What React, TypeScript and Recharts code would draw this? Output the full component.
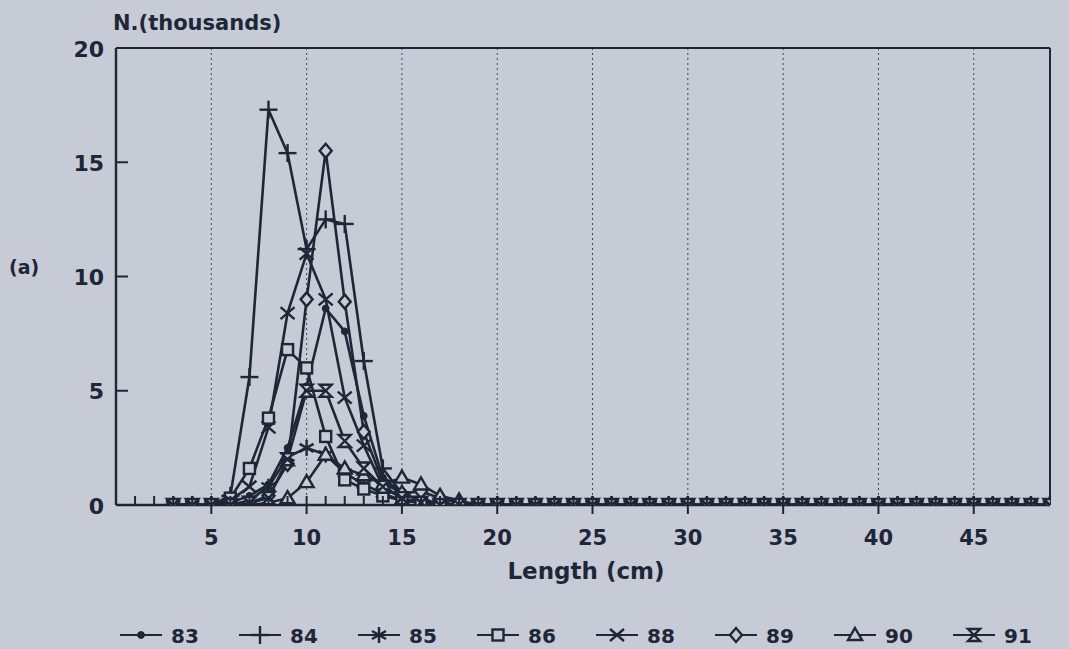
import React from 'react';
import { LineChart, Line, XAxis, YAxis, ReferenceLine } from 'recharts';

const BG = '#c7cbd5';
const INK = '#1d2737';
const FONT = '"DejaVu Sans", "Liberation Sans", sans-serif';

// Length classes (cm)
const lengths = [3, 4, 5, 6, 7, 8, 9, 10, 11, 12, 13, 14, 15, 16, 17, 18, 19, 20, 21, 22, 23, 24, 25, 26, 27, 28, 29, 30, 31, 32, 33, 34, 35, 36, 37, 38, 39, 40, 41, 42, 43, 44, 45, 46, 47, 48, 49];

// N (thousands) per year, L = 3..49
const y83 = [0, 0, 0, 0.1, 0.4, 0.9, 2.5, 5.2, 8.6, 7.6, 3.9, 1.2, 0.5, 0.2, 0.1, 0, 0, 0, 0, 0, 0, 0, 0, 0, 0, 0, 0, 0, 0, 0, 0, 0, 0, 0, 0, 0, 0, 0, 0, 0, 0, 0, 0, 0, 0, 0, 0];
const y84 = [0, 0, 0, 0.4, 5.6, 17.3, 15.4, 11.2, 12.5, 12.3, 6.3, 1.6, 0.5, 0.2, 0.1, 0, 0, 0, 0, 0, 0, 0, 0, 0, 0, 0, 0, 0, 0, 0, 0, 0, 0, 0, 0, 0, 0, 0, 0, 0, 0, 0, 0, 0, 0, 0, 0];
const y85 = [0, 0, 0, 0, 0.2, 0.8, 2.1, 2.5, 2.2, 1.4, 0.9, 0.5, 0.2, 0.1, 0, 0, 0, 0, 0, 0, 0, 0, 0, 0, 0, 0, 0, 0, 0, 0, 0, 0, 0, 0, 0, 0, 0, 0, 0, 0, 0, 0, 0, 0, 0, 0, 0];
const y86 = [0, 0, 0, 0.3, 1.6, 3.8, 6.8, 6.0, 3.0, 1.1, 0.7, 0.4, 0.2, 0.1, 0, 0, 0, 0, 0, 0, 0, 0, 0, 0, 0, 0, 0, 0, 0, 0, 0, 0, 0, 0, 0, 0, 0, 0, 0, 0, 0, 0, 0, 0, 0, 0, 0];
const y88 = [0, 0, 0, 0.2, 0.8, 3.4, 8.4, 11.0, 9.0, 4.7, 2.6, 0.8, 0.3, 0.1, 0, 0, 0, 0, 0, 0, 0, 0, 0, 0, 0, 0, 0, 0, 0, 0, 0, 0, 0, 0, 0, 0, 0, 0, 0, 0, 0, 0, 0, 0, 0, 0, 0];
const y89 = [0, 0, 0, 0, 0.1, 0.4, 1.8, 9.0, 15.5, 8.9, 3.2, 1.0, 0.5, 0.6, 0.3, 0.1, 0, 0, 0, 0, 0, 0, 0, 0, 0, 0, 0, 0, 0, 0, 0, 0, 0, 0, 0, 0, 0, 0, 0, 0, 0, 0, 0, 0, 0, 0, 0];
const y90 = [0, 0, 0, 0, 0, 0.1, 0.3, 1.0, 2.2, 1.6, 1.3, 0.9, 1.2, 0.9, 0.4, 0.2, 0, 0, 0, 0, 0, 0, 0, 0, 0, 0, 0, 0, 0, 0, 0, 0, 0, 0, 0, 0, 0, 0, 0, 0, 0, 0, 0, 0, 0, 0, 0];
const y91 = [0, 0, 0, 0, 0.1, 0.3, 2.0, 5.0, 5.0, 2.8, 1.6, 0.8, 0.3, 0.1, 0, 0, 0, 0, 0, 0, 0, 0, 0, 0, 0, 0, 0, 0, 0, 0, 0, 0, 0, 0, 0, 0, 0, 0, 0, 0, 0, 0, 0, 0, 0, 0, 0];

const seriesNames = ['83', '84', '85', '86', '88', '89', '90', '91'];
const seriesShapes = ['dot', 'plus', 'star', 'square', 'cross', 'diamond', 'triangle', 'hourglass'];
const seriesValues = [y83, y84, y85, y86, y88, y89, y90, y91];

// Axis ticks
const xMinorTicks = [1, 2, 3, 4, 5, 6, 7, 8, 9, 10, 11, 12, 13, 14, 15, 16, 17, 18, 19, 20, 21, 22, 23, 24, 25, 26, 27, 28, 29, 30, 31, 32, 33, 34, 35, 36, 37, 38, 39, 40, 41, 42, 43, 44, 45, 46, 47, 48];
const xMajorTicks = [5, 10, 15, 20, 25, 30, 35, 40, 45];
const yTicks = [0, 5, 10, 15, 20];

const data = lengths.map((L, i) => {
  const row: Record<string, number> = { L };
  seriesNames.forEach((n, k) => {
    row['s' + n] = seriesValues[k][i];
  });
  return row;
});

function Marker({ shape, cx, cy }: { shape: string; cx: number; cy: number }) {
  const st = { stroke: INK, strokeWidth: 2.4, fill: BG };
  switch (shape) {
    case 'dot':
      return <circle cx={cx} cy={cy} r={3.4} fill={INK} stroke={INK} strokeWidth={1} />;
    case 'plus':
      return (
        <g {...st}>
          <line x1={cx - 9} x2={cx + 9} y1={cy} y2={cy} />
          <line x1={cx} x2={cx} y1={cy - 9} y2={cy + 9} />
        </g>
      );
    case 'star':
      return (
        <g {...st}>
          <line x1={cx} x2={cx} y1={cy - 8} y2={cy + 8} />
          <line x1={cx - 7} x2={cx + 7} y1={cy - 4} y2={cy + 4} />
          <line x1={cx - 7} x2={cx + 7} y1={cy + 4} y2={cy - 4} />
        </g>
      );
    case 'square':
      return <rect x={cx - 5.5} y={cy - 5.5} width={11} height={11} {...st} />;
    case 'cross':
      return (
        <g {...st}>
          <line x1={cx - 7} x2={cx + 7} y1={cy - 6} y2={cy + 6} />
          <line x1={cx - 7} x2={cx + 7} y1={cy + 6} y2={cy - 6} />
        </g>
      );
    case 'diamond':
      return (
        <polygon
          points={`${cx},${cy - 7} ${cx + 6},${cy} ${cx},${cy + 7} ${cx - 6},${cy}`}
          {...st}
        />
      );
    case 'triangle':
      return (
        <polygon
          points={`${cx},${cy - 7} ${cx + 7},${cy + 5} ${cx - 7},${cy + 5}`}
          {...st}
        />
      );
    case 'hourglass':
      return (
        <path
          d={`M${cx - 6},${cy - 6} L${cx + 6},${cy - 6} L${cx - 6},${cy + 6} L${cx + 6},${cy + 6} Z`}
          {...st}
        />
      );
    default:
      return null;
  }
}

const makeDot = (shape: string, name: string) => (props: any) => {
  const { cx, cy, index } = props;
  if (cx == null || cy == null) return <g key={`${name}-${index}`} />;
  return (
    <g key={`${name}-${index}`}>
      <Marker shape={shape} cx={cx} cy={cy} />
    </g>
  );
};

const XTick = (props: any) => {
  const { x, y, payload } = props;
  const v = payload.value;
  const major = xMajorTicks.includes(v);
  return (
    <g>
      <line x1={x} x2={x} y1={y - 9} y2={major ? y + 9 : y} stroke={INK} strokeWidth={2} />
      {major && (
        <text
          x={x}
          y={y + 33}
          textAnchor="middle"
          dominantBaseline="central"
          fill={INK}
          fontFamily={FONT}
          fontWeight="bold"
          fontSize={21}
        >
          {v}
        </text>
      )}
    </g>
  );
};

const YTick = (props: any) => {
  const { x, y, payload } = props;
  return (
    <g>
      {payload.value > 0 && payload.value < 20 && (
        <line x1={x} x2={x + 12} y1={y} y2={y} stroke={INK} strokeWidth={2} />
      )}
      <text
        x={x - 12}
        y={y + 1}
        textAnchor="end"
        dominantBaseline="central"
        fill={INK}
        fontFamily={FONT}
        fontWeight="bold"
        fontSize={22}
      >
        {payload.value}
      </text>
    </g>
  );
};

export default function App() {
  return (
    <div
      style={{
        position: 'absolute',
        left: 0,
        top: 0,
        width: 1069,
        height: 649,
        background: BG,
        overflow: 'hidden',
      }}
    >
      <div style={{ position: 'absolute', left: 0, top: 0 }}>
        <LineChart
          width={1069}
          height={649}
          data={data}
          margin={{ top: 48, right: 19, bottom: 0, left: 0 }}
        >
          {xMajorTicks.map((v) => (
            <ReferenceLine
              key={'g' + v}
              x={v}
              stroke="#3b4558"
              strokeWidth={1}
              strokeDasharray="2 3"
              ifOverflow="visible"
            />
          ))}
          <ReferenceLine y={20} stroke={INK} strokeWidth={2} />
          <ReferenceLine x={49} stroke={INK} strokeWidth={2} />
          <XAxis
            dataKey="L"
            type="number"
            domain={[0, 49]}
            ticks={xMinorTicks}
            interval={0}
            height={144}
            tickSize={0}
            tickMargin={0}
            tickLine={false}
            axisLine={{ stroke: INK, strokeWidth: 2.4 }}
            tick={<XTick />}
            allowDataOverflow
          />
          <YAxis
            type="number"
            domain={[0, 20]}
            ticks={yTicks}
            interval={0}
            width={116}
            tickSize={0}
            tickMargin={0}
            tickLine={false}
            axisLine={{ stroke: INK, strokeWidth: 2.4 }}
            tick={<YTick />}
            allowDataOverflow
          />
          {seriesNames.map((n, k) => (
            <Line
              key={n}
              type="linear"
              dataKey={'s' + n}
              name={n}
              stroke={INK}
              strokeWidth={2.6}
              dot={makeDot(seriesShapes[k], n)}
              activeDot={false}
              isAnimationActive={false}
            />
          ))}
        </LineChart>
      </div>
      <svg
        width={1069}
        height={649}
        style={{ position: 'absolute', left: 0, top: 0, pointerEvents: 'none' }}
      >
        <text x={113} y={23} dominantBaseline="central" fill={INK} fontFamily={FONT} fontWeight="bold" fontSize={21}>
          N.(thousands)
        </text>
        <text x={9} y={267} dominantBaseline="central" fill={INK} fontFamily={FONT} fontWeight="bold" fontSize={19}>
          (a)
        </text>
        <text x={586} y={571} textAnchor="middle" dominantBaseline="central" fill={INK} fontFamily={FONT} fontWeight="bold" fontSize={23}>
          Length (cm)
        </text>
        {seriesNames.map((n, k) => {
          const x0 = 120 + k * 119;
          const ly = 635;
          return (
            <g key={'leg' + n}>
              <line x1={x0} x2={x0 + 42} y1={ly} y2={ly} stroke={INK} strokeWidth={2.2} />
              <Marker shape={seriesShapes[k]} cx={x0 + 21} cy={ly} />
              <text x={x0 + 51} y={ly + 1} dominantBaseline="central" fill={INK} fontFamily={FONT} fontWeight="bold" fontSize={20}>
                {n}
              </text>
            </g>
          );
        })}
      </svg>
    </div>
  );
}
